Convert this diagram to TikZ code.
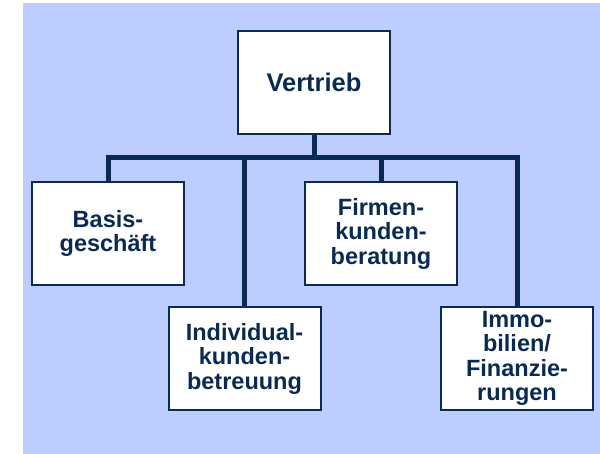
\documentclass[tikz,border=0pt]{standalone}
\usepackage{fontspec}
\setmainfont{Liberation Sans}
\definecolor{bgblue}{RGB}{189, 205, 253}
\definecolor{navy1}{RGB}{10, 42, 82}
\usepackage{tikz}
\usetikzlibrary{positioning, calc}

\begin{document}
\begin{tikzpicture}[x=1pt, y=-1pt,
  unit/.style={draw=navy1, line width=2pt, fill=white, text=navy1, align=center,
    minimum width=152pt, minimum height=103pt, inner sep=0pt,
    font=\bfseries\fontsize{23.5}{24.5}\selectfont},
  link/.style={draw=navy1, line width=5pt}]
  % Background
  \useasboundingbox (0, 0) rectangle (600, 454);
  \fill[bgblue] (23, 3) rectangle (600, 454);

  % Top unit
  \node[unit, font=\bfseries\fontsize{25.5}{27}\selectfont] (vertrieb) at (314, 82.5) {Vertrieb};

  % Bus line
  \coordinate (bus) at (314, 158);

  % Sub units
  \node[unit] (basis) at (108, 233.5) {Basis-\\geschäft};
  \node[unit] (firmen) at (381, 233.5) {Firmen-\\kunden-\\beratung};
  \node[unit] (indiv) at (244.5, 358.5) {Individual-\\kunden-\\betreuung};
  \node[unit] (immo) at (517, 358.5) {Immo-\\bilien/\\Finanzie-\\rungen};

  % Connectors
  \draw[link] (vertrieb.south) -- (vertrieb.south |- bus);
  \draw[link] (basis.north) |- (bus) -| (immo.north);
  \draw[link] (indiv.north) -- (indiv.north |- bus);
  \draw[link] (firmen.north) -- (firmen.north |- bus);
\end{tikzpicture}
\end{document}
